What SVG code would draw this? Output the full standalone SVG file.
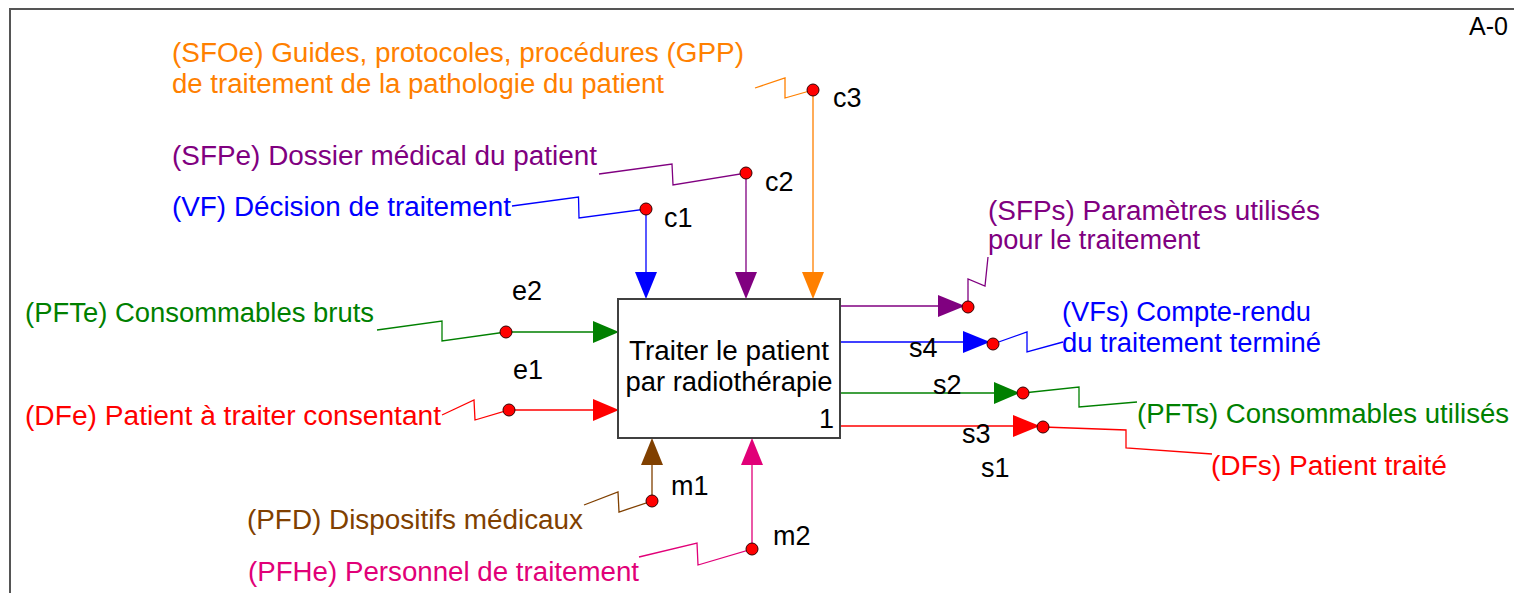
<svg xmlns="http://www.w3.org/2000/svg" width="1514" height="593" viewBox="0 0 1514 593">
<style>
text{font-family:"Liberation Sans",Arial,sans-serif;font-size:27px}
.k{fill:#000}
.or{fill:#FF8000}.pu{fill:#800080}.bl{fill:#0000FF}.gr{fill:#008000}.rd{fill:#FF0000}.br{fill:#804000}.mg{fill:#E10078}
.sor{stroke:#FF8000}.spu{stroke:#800080}.sbl{stroke:#0000FF}.sgr{stroke:#008000}.srd{stroke:#FF0000}.sbr{stroke:#804000}.smg{stroke:#E10078}
.ln{fill:none;stroke-width:1.3}
.dot{fill:#FF0000;stroke:#300;stroke-width:1}
</style>
<rect width="1514" height="593" fill="#fff"/>
<path d="M10,593 V9 H1514" fill="none" stroke="#555" stroke-width="2"/>
<text x="1469" y="35" font-size="26" textLength="39" lengthAdjust="spacingAndGlyphs" class="k" style="font-size:26px">A-0</text>

<g id="connectors">
  <!-- controls -->
  <polyline class="ln sbl" points="512,206 578.5,197 579,218 646,209 646,272"/>
  <polygon class="bl" points="635,272 657,272 646,299"/>
  <circle class="dot" cx="646" cy="209" r="6"/>
  <polyline class="ln spu" points="599,174 672,164 673,185 746,173 746,272"/>
  <polygon class="pu" points="735,272 757,272 746,299"/>
  <circle class="dot" cx="746" cy="173" r="6"/>
  <polyline class="ln sor" points="755,88 785,78 785,98 813,90 813,272"/>
  <polygon class="or" points="802,272 824,272 813,299"/>
  <circle class="dot" cx="813" cy="90" r="6"/>
  <!-- inputs -->
  <polyline class="ln sgr" points="377,330 442,321 442,341 506,332 594,332"/>
  <polygon class="gr" points="593,321 593,343 619,332"/>
  <circle class="dot" cx="506" cy="332" r="6"/>
  <polyline class="ln srd" points="442,415 474,400 475,420 509,410 594,410"/>
  <polygon class="rd" points="593,399 593,421 619,410"/>
  <circle class="dot" cx="509" cy="410" r="6"/>
  <!-- mechanisms -->
  <polyline class="ln sbr" points="584,505 618,492 619,512 652,501 652,465"/>
  <polygon class="br" points="641,465 663,465 652,438"/>
  <circle class="dot" cx="652" cy="501" r="6"/>
  <polyline class="ln smg" points="639,557 697,543 698,565 752,549 752,465"/>
  <polygon class="mg" points="741,465 763,465 752,438"/>
  <circle class="dot" cx="752" cy="549" r="6"/>
  <!-- outputs -->
  <polyline class="ln spu" points="840,306 940,306"/>
  <polygon class="pu" points="938,295 938,317 965,306"/>
  <polyline class="ln spu" points="968,307 968,279 985,286 988,257"/>
  <circle class="dot" cx="968" cy="307" r="6"/>
  <polyline class="ln sbl" points="840,342 964,342"/>
  <polygon class="bl" points="963,331 963,353 990,342"/>
  <polyline class="ln sbl" points="993,344 1027,332 1027,352 1063,342"/>
  <circle class="dot" cx="993" cy="344" r="6"/>
  <polyline class="ln sgr" points="840,393 995,393"/>
  <polygon class="gr" points="994,382 994,404 1020,393"/>
  <polyline class="ln sgr" points="1023,393 1079,387 1079,407 1137,402"/>
  <circle class="dot" cx="1023" cy="393" r="6"/>
  <polyline class="ln srd" points="840,426 1014,426"/>
  <polygon class="rd" points="1013,415 1013,437 1040,426"/>
  <polyline class="ln srd" points="1043,427 1126,430 1126,448 1212,454"/>
  <circle class="dot" cx="1043" cy="427" r="6"/>
  <!-- codes -->
  <text class="k" x="833" y="107">c3</text>
  <text class="k" x="765" y="191">c2</text>
  <text class="k" x="664" y="227">c1</text>
  <text class="k" x="512" y="300">e2</text>
  <text class="k" x="513" y="379">e1</text>
  <text class="k" x="909" y="357">s4</text>
  <text class="k" x="933" y="394">s2</text>
  <text class="k" x="962" y="443">s3</text>
  <text class="k" x="981" y="477">s1</text>
  <text class="k" x="671" y="495">m1</text>
  <text class="k" x="773" y="545">m2</text>
</g>

<g id="node-1">
  <rect x="618" y="299" width="222" height="139" fill="#fff" stroke="#404040" stroke-width="2"/>
  <text class="k" x="729" y="360" text-anchor="middle" textLength="200" lengthAdjust="spacingAndGlyphs">Traiter le patient</text>
  <text class="k" x="729" y="391" text-anchor="middle" textLength="207" lengthAdjust="spacingAndGlyphs">par radiothérapie</text>
  <text class="k" x="834" y="428" text-anchor="end">1</text>
</g>

<g id="label-SFOe">
  <text class="or" x="172" y="62" textLength="572" lengthAdjust="spacingAndGlyphs">(SFOe) Guides, protocoles, procédures (GPP)</text>
  <text class="or" x="172" y="93" textLength="492" lengthAdjust="spacingAndGlyphs">de traitement de la pathologie du patient</text>
</g>
<g id="label-SFPe"><text class="pu" x="172" y="165" textLength="425" lengthAdjust="spacingAndGlyphs">(SFPe) Dossier médical du patient</text></g>
<g id="label-VF"><text class="bl" x="172" y="216" textLength="339" lengthAdjust="spacingAndGlyphs">(VF) Décision de traitement</text></g>
<g id="label-PFTe"><text class="gr" x="25" y="322" textLength="349" lengthAdjust="spacingAndGlyphs">(PFTe) Consommables bruts</text></g>
<g id="label-DFe"><text class="rd" x="25" y="425" textLength="416" lengthAdjust="spacingAndGlyphs">(DFe) Patient à traiter consentant</text></g>
<g id="label-PFD"><text class="br" x="247" y="529" textLength="336" lengthAdjust="spacingAndGlyphs">(PFD) Dispositifs médicaux</text></g>
<g id="label-PFHe"><text class="mg" x="248" y="581" textLength="391" lengthAdjust="spacingAndGlyphs">(PFHe) Personnel de traitement</text></g>
<g id="label-SFPs">
  <text class="pu" x="988" y="220" textLength="332" lengthAdjust="spacingAndGlyphs">(SFPs) Paramètres utilisés</text>
  <text class="pu" x="988" y="249" textLength="212" lengthAdjust="spacingAndGlyphs">pour le traitement</text>
</g>
<g id="label-VFs">
  <text class="bl" x="1062" y="321" textLength="249" lengthAdjust="spacingAndGlyphs">(VFs) Compte-rendu</text>
  <text class="bl" x="1062" y="352" textLength="259" lengthAdjust="spacingAndGlyphs">du traitement terminé</text>
</g>
<g id="label-PFTs"><text class="gr" x="1137" y="423" textLength="372" lengthAdjust="spacingAndGlyphs">(PFTs) Consommables utilisés</text></g>
<g id="label-DFs"><text class="rd" x="1211" y="475" textLength="236" lengthAdjust="spacingAndGlyphs">(DFs) Patient traité</text></g>
</svg>
